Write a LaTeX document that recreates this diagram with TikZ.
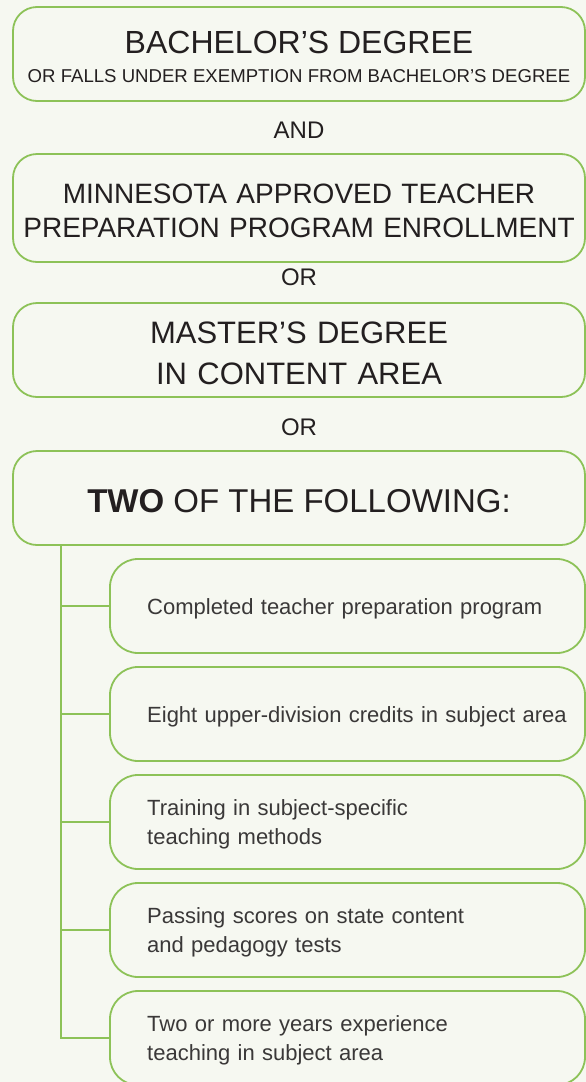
\documentclass[tikz,border=0pt]{standalone}
\usepackage{fontspec}
\setmainfont{Liberation Sans}
\usepackage{xcolor}
\definecolor{leaf}{RGB}{141,194,88}
\definecolor{paper}{RGB}{246,248,241}
\definecolor{ink}{RGB}{35,31,32}
\definecolor{inkgrey}{RGB}{58,56,56}

\begin{document}
\begin{tikzpicture}[x=1pt,y=-1pt,
        box/.style={draw=leaf, line width=1.8pt, rounded corners=24pt, minimum width=572pt, minimum height=94pt, inner sep=0pt},
        subbox/.style={draw=leaf, line width=1.8pt, rounded corners=28pt, minimum width=475pt, minimum height=94pt, inner sep=0pt},
        link/.style={draw=leaf, line width=1.8pt},
        head/.style={inner sep=0pt, text=ink, anchor=base},
        item/.style={inner sep=0pt, text=inkgrey, anchor=base west, align=left, text width=430pt, font=\fontsize{22}{29}\selectfont}]
        % Background and page size
        \fill[paper] (0,0) rectangle (586,1082);
        \useasboundingbox (0,0) rectangle (586,1082);

        % Draw the main boxes
        \node[box] (box1) at (299,54) {};
        \node[box, minimum height=108pt] (box2) at (299,208) {};
        \node[box] (box3) at (299,350) {};
        \node[box] (box4) at (299,498) {};

        % Draw the option boxes
        \foreach \i/\y in {1/606, 2/714, 3/822, 4/930, 5/1038}
            \node[subbox] (sub\i) at (347.5,\y) {};

        % Add connectors
        \coordinate (trunk) at (61,545);
        \draw[link] (trunk) |- (sub5.west);
        \foreach \i in {1,...,4}
            \draw[link] (trunk |- sub\i.west) -- (sub\i.west);

        % Add labels
        \node[head, font=\fontsize{32}{38}\selectfont] (bach) at (299,53) {BACHELOR’S DEGREE};
        \node[head, font=\fontsize{18.6}{22}\selectfont] (exempt) at (299,82) {OR FALLS UNDER EXEMPTION FROM BACHELOR’S DEGREE};
        \node[head, font=\fontsize{24}{28}\selectfont] (and) at (299,138) {AND};
        \node[head, align=center, text width=572pt, font=\fontsize{28}{34}\selectfont] (mnprog) at (299,203) {MINNESOTA APPROVED TEACHER\\PREPARATION PROGRAM ENROLLMENT};
        \node[head, font=\fontsize{24}{28}\selectfont] (or1) at (299,285) {OR};
        \node[head, align=center, text width=572pt, font=\fontsize{31}{41}\selectfont] (master) at (299,343) {MASTER’S DEGREE\\IN CONTENT AREA};
        \node[head, font=\fontsize{24}{28}\selectfont] (or2) at (299,435) {OR};
        \node[head, font=\fontsize{33}{40}\selectfont] (two) at (299,512) {\textbf{TWO} OF THE FOLLOWING:};

        % Add option texts
        \node[item] (opt1) at (147,614) {Completed teacher preparation program};
        \node[item] (opt2) at (147,722) {Eight upper-division credits in subject area};
        \node[item] (opt3) at (147,815) {Training in subject-specific\\teaching methods};
        \node[item] (opt4) at (147,923) {Passing scores on state content\\and pedagogy tests};
        \node[item] (opt5) at (147,1031) {Two or more years experience\\teaching in subject area};
    \end{tikzpicture}
\end{document}
